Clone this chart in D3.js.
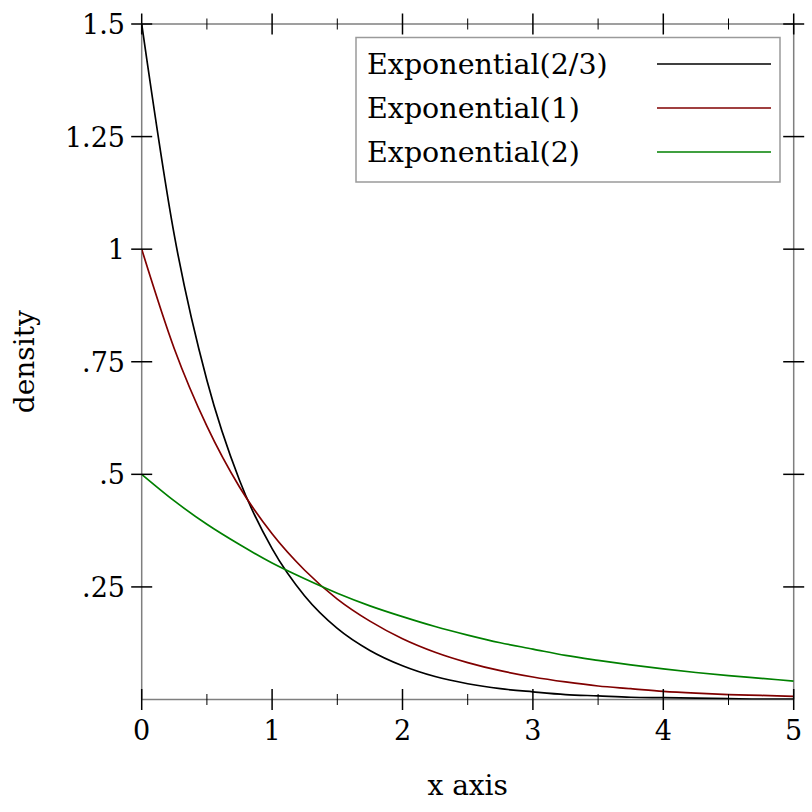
<!DOCTYPE html>
<html>
<head>
<meta charset="utf-8">
<script src="https://d3js.org/d3.v7.min.js"></script>
<style>
  body { margin: 0; background: #fff; }
  text { font-family: "DejaVu Serif", serif; fill: #000; }
</style>
</head>
<body>
<div id="chart"></div>
<script>
// sample positions along x
const xs = [0, 0.25, 0.5, 0.75, 1, 1.25, 1.5, 1.75, 2, 2.25, 2.5, 2.75, 3, 3.25, 3.5, 3.75, 4, 4.25, 4.5, 4.75, 5];

// density values per series
const expTwoThirds = [1.5, 1.031, 0.709, 0.487, 0.335, 0.230, 0.158, 0.109, 0.075, 0.051, 0.035, 0.024, 0.017, 0.011, 0.008, 0.005, 0.004, 0.003, 0.002, 0.001, 0.001];
const expOne = [1, 0.779, 0.607, 0.472, 0.368, 0.287, 0.223, 0.174, 0.135, 0.105, 0.082, 0.064, 0.050, 0.039, 0.030, 0.024, 0.018, 0.014, 0.011, 0.009, 0.007];
const expTwo = [0.5, 0.441, 0.389, 0.344, 0.303, 0.268, 0.236, 0.208, 0.184, 0.162, 0.143, 0.126, 0.112, 0.098, 0.087, 0.077, 0.068, 0.060, 0.053, 0.047, 0.041];

const seriesNames = ["Exponential(2/3)", "Exponential(1)", "Exponential(2)"];
const seriesColors = ["#000000", "#800000", "#008000"];

const xMajorTicks = [0, 1, 2, 3, 4, 5];
const xMinorTicks = [0.5, 1.5, 2.5, 3.5, 4.5];
const yMajorTicks = [0.25, 0.5, 0.75, 1, 1.25, 1.5];
const yTickLabels = [".25", ".5", ".75", "1", "1.25", "1.5"];

const W = 812, H = 812;
const x = d3.scaleLinear().domain([0, 5]).range([141.7, 793.7]);
const y = d3.scaleLinear().domain([0, 1.5]).range([699.5, 24]);

const svg = d3.select("#chart").append("svg")
    .attr("width", W).attr("height", H);

const x0 = x.range()[0], x1 = x.range()[1];
const y0 = y.range()[0], y1 = y.range()[1];

// frame (axis lines)
const frame = svg.append("g").attr("stroke", "#7f7f7f").attr("stroke-width", 1.5);
frame.append("line").attr("x1", x0).attr("x2", x1).attr("y1", y0).attr("y2", y0);
frame.append("line").attr("x1", x0).attr("x2", x1).attr("y1", y1).attr("y2", y1);
frame.append("line").attr("x1", x0).attr("x2", x0).attr("y1", y0).attr("y2", y1);
frame.append("line").attr("x1", x1).attr("x2", x1).attr("y1", y0).attr("y2", y1);

// curves, clipped to plot area
svg.append("clipPath").attr("id", "clip")
  .append("rect").attr("x", x0).attr("y", y1).attr("width", x1 - x0).attr("height", y0 - y1);

const line = d3.line()
    .x((d, i) => x(xs[i]))
    .y(d => y(d))
    .curve(d3.curveMonotoneX);

const allSeries = [expTwoThirds, expOne, expTwo];
svg.append("g").attr("clip-path", "url(#clip)")
  .selectAll("path")
  .data(allSeries)
  .enter()
  .append("path")
  .attr("d", line)
  .attr("fill", "none")
  .attr("stroke", (d, i) => seriesColors[i])
  .attr("stroke-width", 1.7);

// ticks
const ticks = svg.append("g").attr("stroke", "#000").attr("stroke-width", 1.5);
xMajorTicks.forEach(v => {
  ticks.append("line").attr("x1", x(v)).attr("x2", x(v)).attr("y1", y0 - 10.5).attr("y2", y0 + 10.5);
  ticks.append("line").attr("x1", x(v)).attr("x2", x(v)).attr("y1", y1 - 10.5).attr("y2", y1 + 10.5);
});
xMinorTicks.forEach(v => {
  ticks.append("line").attr("x1", x(v)).attr("x2", x(v)).attr("y1", y0 - 5.5).attr("y2", y0 + 5.5).attr("stroke-width", 1);
  ticks.append("line").attr("x1", x(v)).attr("x2", x(v)).attr("y1", y1 - 5.5).attr("y2", y1 + 5.5).attr("stroke-width", 1);
});
yMajorTicks.forEach(v => {
  ticks.append("line").attr("y1", y(v)).attr("y2", y(v)).attr("x1", x0 - 10.5).attr("x2", x0 + 10.5);
  ticks.append("line").attr("y1", y(v)).attr("y2", y(v)).attr("x1", x1 - 10.5).attr("x2", x1 + 10.5);
});

// tick labels
svg.selectAll(".xlabel")
  .data(xMajorTicks)
  .enter().append("text")
  .attr("class", "xlabel")
  .attr("x", d => x(d))
  .attr("y", 740)
  .attr("text-anchor", "middle")
  .style("font-size", "27px")
  .text(d => d);

svg.selectAll(".ylabel")
  .data(yMajorTicks)
  .enter().append("text")
  .attr("class", "ylabel")
  .attr("x", 125)
  .attr("y", d => y(d) + 10)
  .attr("text-anchor", "end")
  .style("font-size", "27px")
  .text((d, i) => yTickLabels[i]);

// axis titles
svg.append("text")
  .attr("x", (x0 + x1) / 2)
  .attr("y", 795)
  .attr("text-anchor", "middle")
  .style("font-size", "28px")
  .text("x axis");

svg.append("text")
  .attr("transform", `translate(34,${(y0 + y1) / 2}) rotate(-90)`)
  .attr("text-anchor", "middle")
  .style("font-size", "28px")
  .text("density");

// legend
const legend = svg.append("g");
legend.append("rect")
  .attr("x", 356).attr("y", 37.5)
  .attr("width", 424).attr("height", 144.5)
  .attr("fill", "#fff")
  .attr("stroke", "#9a9a9a")
  .attr("stroke-width", 1.5);

seriesNames.forEach((name, i) => {
  const cy = 64 + i * 44;
  legend.append("text")
    .attr("x", 367)
    .attr("y", cy + 10)
    .style("font-size", "28.5px")
    .text(name);
  legend.append("line")
    .attr("x1", 657).attr("x2", 771)
    .attr("y1", cy).attr("y2", cy)
    .attr("stroke", seriesColors[i])
    .attr("stroke-width", 1.7);
});
</script>
</body>
</html>
